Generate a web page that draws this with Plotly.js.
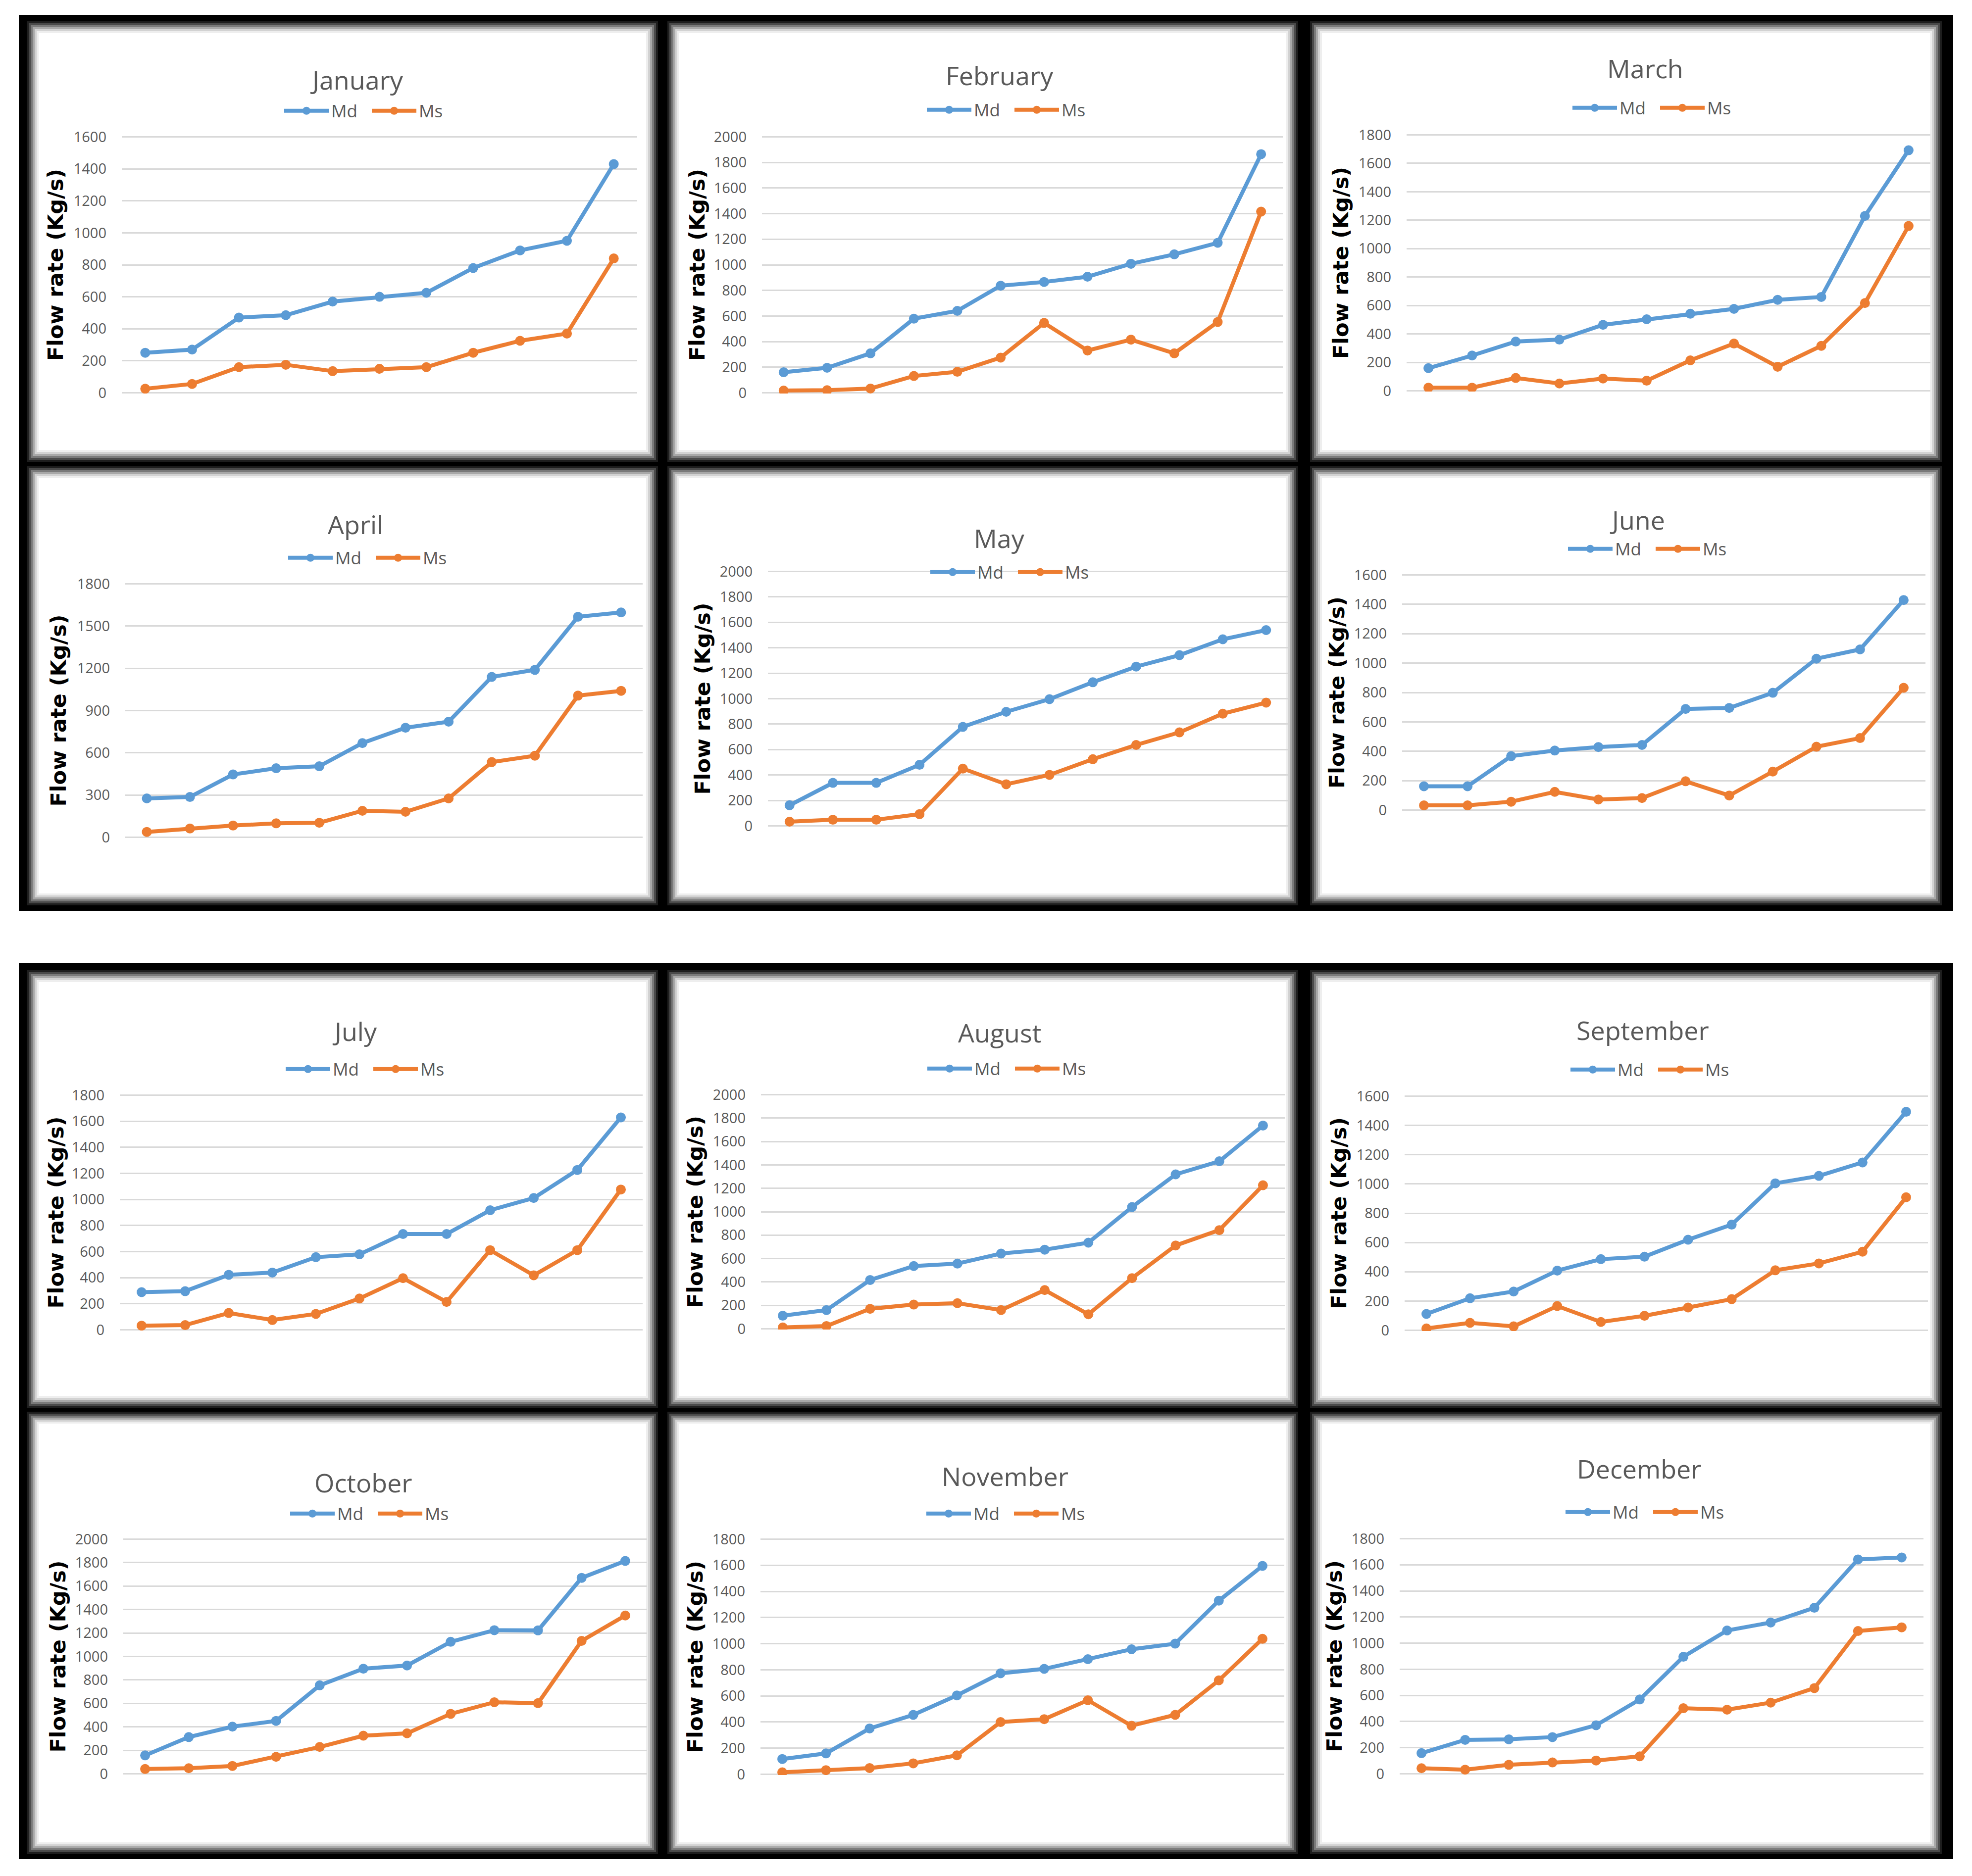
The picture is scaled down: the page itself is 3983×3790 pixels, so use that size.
<!DOCTYPE html>
<html><head><meta charset="utf-8">
<script src="https://cdn.plot.ly/plotly-3.0.1.min.js"></script>
<style>html,body{margin:0;padding:0;background:#fff}#chart{width:3983px;height:3790px}</style>
</head><body><div id="chart"></div>
<script>
// ---------- DATA ----------
const monthNames = ['January','February','March','April','May','June','July','August','September','October','November','December'];
const seriesNames = ['Md','Ms'];

const mdJanuary   = [250, 270, 470, 485, 570, 600, 625, 780, 890, 950, 1430];
const msJanuary   = [25, 55, 160, 175, 135, 150, 160, 250, 325, 370, 840];
const mdFebruary  = [160, 195, 308, 579, 640, 837, 866, 907, 1008, 1082, 1172, 1865];
const msFebruary  = [17, 20, 33, 131, 164, 275, 546, 330, 415, 308, 553, 1416];
const mdMarch     = [159, 248, 346, 360, 464, 503, 542, 576, 640, 660, 1230, 1692];
const msMarch     = [22, 22, 90, 51, 86, 71, 214, 332, 169, 316, 617, 1159];
const mdApril     = [276, 286, 446, 490, 504, 669, 778, 821, 1139, 1189, 1566, 1597];
const msApril     = [38, 62, 83, 99, 103, 188, 181, 276, 534, 579, 1006, 1040];
const mdMay       = [162, 338, 338, 480, 778, 897, 996, 1129, 1252, 1342, 1467, 1539];
const msMay       = [33, 48, 48, 92, 450, 327, 401, 524, 636, 735, 882, 969];
const mdJune      = [162, 162, 367, 405, 429, 443, 688, 695, 798, 1030, 1093, 1429];
const msJune      = [32, 32, 57, 124, 72, 82, 196, 99, 262, 431, 490, 832];
const mdJuly      = [289, 296, 422, 439, 557, 579, 735, 735, 917, 1011, 1226, 1629];
const msJuly      = [32, 36, 129, 75, 122, 240, 396, 214, 611, 418, 611, 1076];
const mdAugust    = [112, 160, 417, 536, 557, 643, 676, 736, 1040, 1319, 1431, 1736];
const msAugust    = [12, 24, 171, 207, 219, 160, 331, 124, 433, 712, 843, 1226];
const mdSeptember = [112, 219, 265, 408, 486, 503, 619, 722, 1004, 1055, 1147, 1493];
const msSeptember = [13, 51, 27, 166, 57, 99, 156, 213, 410, 457, 537, 909];
const mdOctober   = [157, 313, 402, 451, 754, 896, 923, 1125, 1224, 1222, 1670, 1814];
const msOctober   = [41, 48, 67, 145, 229, 325, 345, 511, 610, 602, 1133, 1349];
const mdNovember  = [117, 160, 351, 455, 604, 773, 807, 881, 957, 1000, 1329, 1595];
const msNovember  = [15, 32, 48, 84, 145, 400, 422, 567, 372, 455, 719, 1037];
const mdDecember  = [158, 260, 264, 281, 372, 569, 896, 1097, 1158, 1271, 1641, 1656];
const msDecember  = [43, 32, 69, 87, 102, 134, 502, 491, 545, 656, 1093, 1121];

// y-axis tick specs (max label, step)
const yTickMax  = [1600, 2000, 1800, 1800, 2000, 1600, 1800, 2000, 1600, 2000, 1800, 1800];
const yTickStep = [200, 200, 200, 300, 200, 200, 200, 200, 200, 200, 200, 200];
const yAxisTitle = 'Flow rate (Kg/s)';

const mdSeries = [mdJanuary, mdFebruary, mdMarch, mdApril, mdMay, mdJune, mdJuly, mdAugust, mdSeptember, mdOctober, mdNovember, mdDecember];
const msSeries = [msJanuary, msFebruary, msMarch, msApril, msMay, msJune, msJuly, msAugust, msSeptember, msOctober, msNovember, msDecember];

// ---------- LAYOUT GEOMETRY (pixels) ----------
const W = 3983, H = 3790;
const geo = [
  {gL:246, gR:1287, yTop:275, y0:795, tX:720, tY:160, lX:746, lY:224, aX:112},
  {gL:1539,gR:2591, yTop:275, y0:795, tX:2019,tY:152, lX:2044,lY:222, aX:1408},
  {gL:2841,gR:3899, yTop:271, y0:791, tX:3323,tY:138, lX:3348,lY:218, aX:2708},
  {gL:253, gR:1298, yTop:1178,y0:1693,tX:718, tY:1059,lX:754, lY:1127,aX:118},
  {gL:1551,gR:2601, yTop:1153,y0:1670,tX:2019,tY:1087,lX:2051,lY:1156,aX:1418},
  {gL:2832,gR:3889, yTop:1160,y0:1638,tX:3307,tY:1049,lX:3339,lY:1109,aX:2700},
  {gL:242, gR:1298, yTop:2211,y0:2688,tX:716, tY:2082,lX:749, lY:2160,aX:112},
  {gL:1537,gR:2595, yTop:2210,y0:2686,tX:2019,tY:2085,lX:2045,lY:2159,aX:1404},
  {gL:2837,gR:3894, yTop:2213,y0:2689,tX:3318,tY:2080,lX:3344,lY:2161,aX:2704},
  {gL:249, gR:1307, yTop:3108,y0:3585,tX:733, tY:2994,lX:758, lY:3058,aX:116},
  {gL:1536,gR:2594, yTop:3108,y0:3586,tX:2030,tY:2981,lX:2043,lY:3058,aX:1404},
  {gL:2827,gR:3885, yTop:3107,y0:3585,tX:3310,tY:2966,lX:3334,lY:3055,aX:2695}
];
const colX = [[66,1317],[1360,2610],[2658,3910]];
const rowY = [[55,921],[954,1817],[1972,2832],[2864,3734]];
const blocks = [[38,30,3945,1840],[38,1946,3945,3756]];

const FONT = 'Open Sans, Lato, sans-serif';
const GRAY = '#595959';
const COLORS = ['#5B9BD5', '#ED7D31'];

const px = v => v / W;
const py = v => 1 - v / H;

const traces = [];
const layout = {
  width: W, height: H,
  margin: {l:0, r:0, t:0, b:0},
  paper_bgcolor: '#ffffff',
  plot_bgcolor: 'rgba(0,0,0,0)',
  showlegend: true,
  shapes: [], annotations: []
};

// frames
blocks.forEach(b => layout.shapes.push({type:'rect', xref:'paper', yref:'paper', layer:'below',
  x0:px(b[0]), x1:px(b[2]), y0:py(b[1]), y1:py(b[3]), fillcolor:'#000', line:{width:0}}));
const blurSteps = [['#1e1e1e',-12],['#4a4a4a',-8],['#7a7a7a',-4],['#a8a8a8',0],['#d2d2d2',4],['#eeeeee',8],['#ffffff',12]];
rowY.forEach(r => colX.forEach(c => blurSteps.forEach(s => layout.shapes.push({type:'rect', xref:'paper', yref:'paper', layer:'below',
  x0:px(c[0]+s[1]), x1:px(c[1]-s[1]), y0:py(r[0]+s[1]), y1:py(r[1]-s[1]), fillcolor:s[0], line:{width:0}}))));

monthNames.forEach((m, i) => {
  const g = geo[i];
  const k = i === 0 ? '' : String(i + 1);
  const n = mdSeries[i].length;
  const cats = mdSeries[i].map((_, j) => j + 1);
  const legKey = 'legend' + k;
  [mdSeries[i], msSeries[i]].forEach((vals, s) => {
    traces.push({
      type:'scatter', mode:'lines+markers', name: seriesNames[s],
      x: cats, y: vals, xaxis:'x' + k, yaxis:'y' + k, legend: legKey,
      line:{color:COLORS[s], width:8}, marker:{color:COLORS[s], size:20},
      hoverinfo:'skip'
    });
  });
  const eps = yTickMax[i] * 0.003;
  layout['xaxis' + k] = {domain:[px(g.gL), px(g.gR)], anchor:'y' + k, range:[0.5, n + 0.5],
    showgrid:false, zeroline:false, showticklabels:false, showline:false, ticks:'', fixedrange:true};
  layout['yaxis' + k] = {domain:[py(g.y0), py(g.yTop)], anchor:'x' + k, range:[-eps, yTickMax[i] + eps],
    tick0:0, dtick:yTickStep[i], showgrid:true, gridcolor:'#d9d9d9', gridwidth:3, zeroline:false,
    showline:false, ticks:'', ticklabelstandoff:30, tickfont:{family:FONT, size:29, color:GRAY}, fixedrange:true};
  layout[legKey] = {x:px(g.lX), y:py(g.lY), xanchor:'center', yanchor:'middle', orientation:'h',
    font:{family:FONT, size:35, color:GRAY}, bgcolor:'rgba(0,0,0,0)', itemwidth:90, entrywidthmode:'pixels', entrywidth:72,
    itemclick:false, itemdoubleclick:false};
  layout.annotations.push({text:m, xref:'paper', yref:'paper', x:px(g.tX), y:py(g.tY), xanchor:'center', yanchor:'middle',
    showarrow:false, font:{family:FONT, size:52, color:GRAY}});
  layout.annotations.push({text:'<b>' + yAxisTitle + '</b>', xref:'paper', yref:'paper', x:px(g.aX), y:py((g.yTop + g.y0) / 2),
    xanchor:'center', yanchor:'middle', textangle:-90, showarrow:false, font:{family:'DejaVu Sans, sans-serif', size:43, color:'#000'}});
});

Plotly.newPlot('chart', traces, layout, {staticPlot:true, displayModeBar:false});
</script></body></html>
